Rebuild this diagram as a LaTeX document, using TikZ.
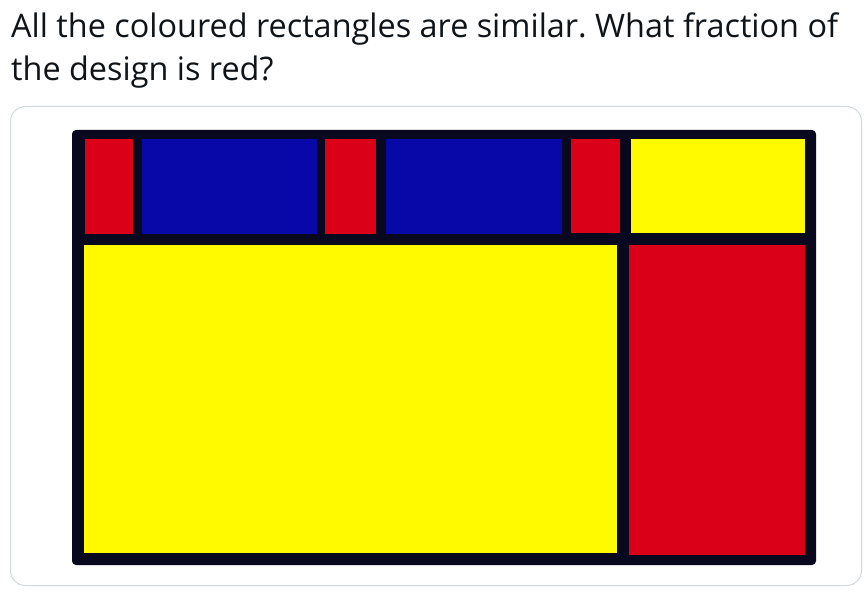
\documentclass[tikz,border=0pt]{standalone}
\usepackage{fontspec}
\setmainfont{Open Sans}
\frenchspacing
\definecolor{ink}{RGB}{15,20,25}
\definecolor{cardline}{RGB}{207,217,222}
\definecolor{framecol}{RGB}{8,8,30}
\definecolor{pred}{RGB}{218,0,24}
\definecolor{pblue}{RGB}{8,8,168}
\definecolor{pyellow}{RGB}{255,250,0}

\begin{document}
\begin{tikzpicture}[x=1pt, y=-1pt,
    question/.style={anchor=base west, inner sep=0pt, text=ink, font=\fontsize{32.4}{38}\selectfont},
    redbox/.style={fill=pred},
    bluebox/.style={fill=pblue},
    yellowbox/.style={fill=pyellow}]
                \useasboundingbox (0,0) rectangle (868,593);
                \fill[white] (0,0) rectangle (868,593);

                \node[question] (q1) at (11,38) {All the coloured rectangles are similar. What fraction of};
                \node[question] (q2) at (11,81) {the design is red?};

                \draw[cardline, line width=1pt, rounded corners=15pt] (10.5,106.5) rectangle (861.5,585.5);
                \fill[framecol, rounded corners=4pt] (72,130) rectangle (816,565);

                \fill[redbox] (85,139) rectangle (133,234);
                \fill[bluebox] (142,139) rectangle (317,234);
                \fill[redbox] (325,139) rectangle (376,234);
                \fill[bluebox] (386,139) rectangle (562,234);
                \fill[redbox] (571,139) rectangle (620,233);
                \fill[yellowbox] (631,139) rectangle (805,233);
                \fill[yellowbox] (84,245) rectangle (617,553);
                \fill[redbox] (629,245) rectangle (805,555);
            \end{tikzpicture}
\end{document}
